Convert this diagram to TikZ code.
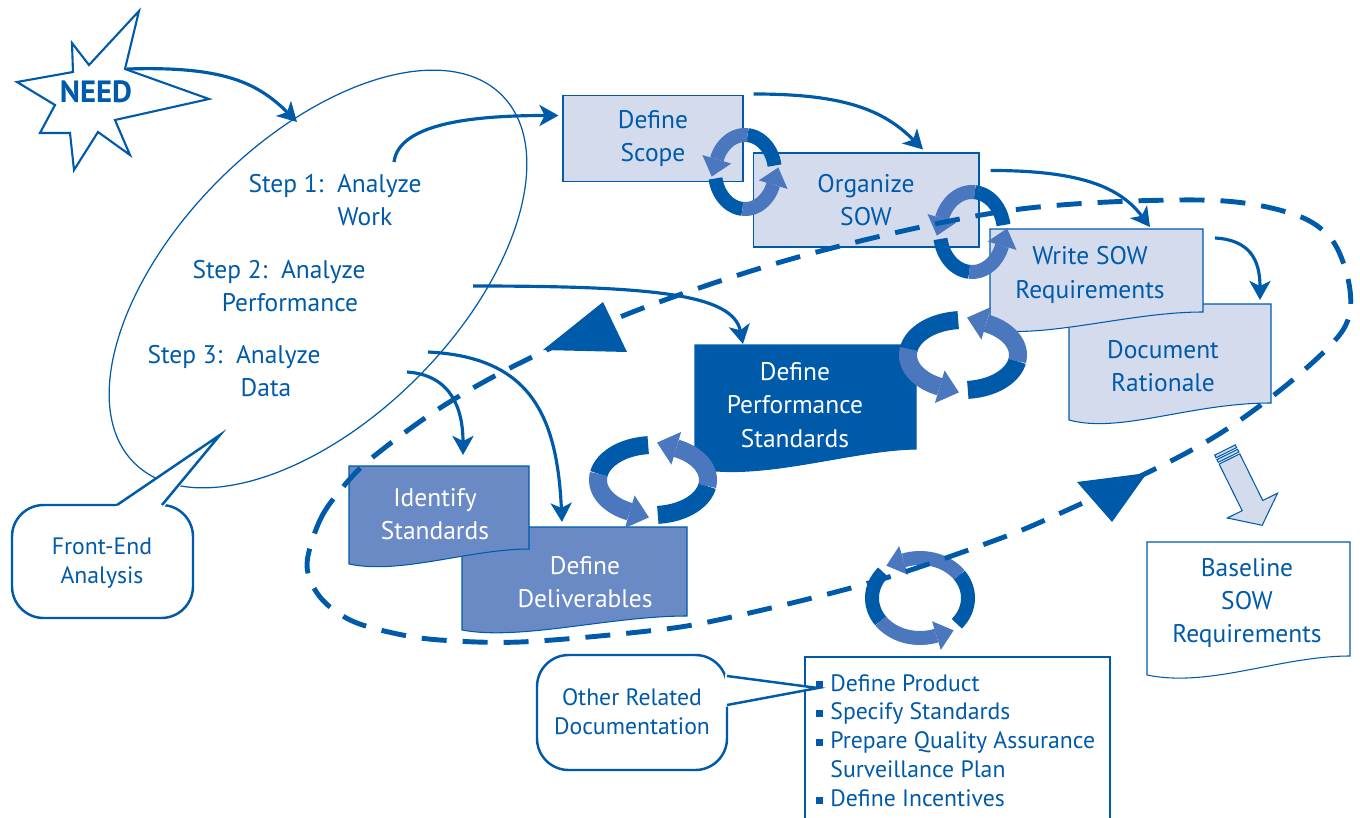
\documentclass[tikz,border=0pt]{standalone}
\usepackage{fontspec}
\setmainfont{PT Sans}
\usetikzlibrary{arrows.meta,calc}

\definecolor{sowblue}{RGB}{0,90,170}
\definecolor{sowpale}{RGB}{212,219,237}
\definecolor{sowmid}{RGB}{106,138,198}
\definecolor{sowring}{RGB}{74,119,190}

\newcommand{\sq}{\raisebox{1.5pt}{\rule{4pt}{4pt}}}

% pair of turning arrows: centre, radii, start angle, band, head half width, head length
\newcommand{\cyclering}[8]{%
  \foreach \s in {0,180}{
    \pgfmathsetmacro{\ta}{#5+\s}
    \pgfmathsetmacro{\tb}{#5+\s-75}
    \pgfmathsetmacro{\tc}{#5+\s-150}
    \pgfmathsetmacro{\rex}{#1+#3*cos(\tc)}
    \pgfmathsetmacro{\rey}{#2+#4*sin(\tc)}
    \pgfmathsetmacro{\rdx}{#3*sin(\tc)}
    \pgfmathsetmacro{\rdy}{-#4*cos(\tc)}
    \pgfmathsetmacro{\rdl}{sqrt(\rdx*\rdx+\rdy*\rdy)}
    \pgfmathsetmacro{\rux}{\rdx/\rdl}
    \pgfmathsetmacro{\ruy}{\rdy/\rdl}
    \draw[sowblue, line width=#6] plot[domain=\ta:\tb, samples=20] ({#1+#3*cos(\x)},{#2+#4*sin(\x)});
    \draw[sowring, line width=#6] plot[domain=\tb:\tc, samples=20] ({#1+#3*cos(\x)},{#2+#4*sin(\x)});
    \fill[sowring] ({\rex-#7*\ruy},{\rey+#7*\rux}) -- ({\rex+#8*\rux},{\rey+#8*\ruy}) -- ({\rex+#7*\ruy},{\rey-#7*\rux}) -- cycle;
  }}

\tikzset{
  flow/.style={draw=sowblue, line width=1.8pt, -{Stealth[length=0.38cm,width=0.42cm,inset=0.1cm]}},
  boxtext/.style={text=sowblue, align=center, inner sep=0pt, font=\fontsize{14.5}{19}\selectfont},
  smalltext/.style={text=sowblue, align=center, inner sep=0pt, font=\fontsize{13.5}{16.5}\selectfont},
  pale/.style={draw=sowblue, line width=0.6pt, fill=sowpale},
  bubble/.style={draw=sowblue, line width=1.4pt, fill=white},
}

\begin{document}
\begin{tikzpicture}[x=0.02cm, y=-0.02cm]
\useasboundingbox (0,0) rectangle (1360,818);

% front-end analysis
\draw[sowblue, line width=0.7pt, rotate around={45:(318,279)}] (318,279) ellipse [x radius=260, y radius=140];

% need
\draw[sowblue, line width=1.2pt, fill=white] (139,11) -- (125,69) -- (209,99) -- (115,120) -- (130,155) -- (98,132) -- (74,170) -- (70,133) -- (40,133) -- (55,105) -- (17,82) -- (73,72) -- (72,43) -- (89,65) -- cycle;
\node[text=sowblue, font=\fontsize{17.5}{20}\selectfont\bfseries] (need) at (96,92) {NEED};

% steps
\node[boxtext] (step1) at (335,200) {Step 1:\ \ Analyze\\\hspace*{1.2cm}Work};
\node[boxtext] (step2) at (279,286) {Step 2:\ \ Analyze\\\hspace*{0.44cm}Performance};
\node[boxtext] (step3) at (234,371) {Step 3:\ \ Analyze\\\hspace*{1.28cm}Data};

% boxes
\node[pale, boxtext, minimum width=3.6cm, minimum height=1.72cm] (scope) at (653,138.5) {Define\\Scope};
\node[pale, boxtext, minimum width=4.52cm, minimum height=1.88cm] (organize) at (866,200) {Organize\\SOW};

\draw[pale] (1069,304) -- (1271,304) -- (1271,403) .. controls (1190,403) and (1120,434) .. (1069,420) -- cycle;
\node[boxtext] (rationale) at (1163,366) {Document\\Rationale};
\draw[pale] (990,229) -- (1203,229) -- (1203,312) .. controls (1130,312) and (1050,338) .. (990,330) -- cycle;
\node[boxtext] (writesow) at (1090,275) {Write SOW\\Requirements};

\draw[draw=sowblue, line width=0.6pt, fill=sowblue] (695,345) -- (916,345) -- (916,449) .. controls (850,450) and (760,482) .. (695,468) -- cycle;
\node[boxtext, text=white] (perf) at (795,405) {Define\\Performance\\Standards};

\draw[draw=sowblue, line width=0.6pt, fill=sowmid] (462,527) -- (687,527) -- (687,616) .. controls (610,616) and (520,641) .. (462,630) -- cycle;
\node[boxtext, text=white] (deliver) at (585,582) {Define\\Deliverables};
\draw[draw=sowblue, line width=0.6pt, fill=sowmid] (349,466) -- (529,466) -- (529,549) .. controls (470,549) and (400,575) .. (349,564) -- cycle;
\node[boxtext, text=white] (identify) at (435,514) {Identify\\Standards};

\draw[draw=sowblue, line width=0.6pt, fill=white] (1147,542) -- (1350,542) -- (1350,656) .. controls (1280,656) and (1210,688) .. (1147,675) -- cycle;
\node[boxtext] (baseline) at (1247,603) {Baseline\\SOW\\Requirements};

% tasks
\draw[draw=sowblue, line width=0.6pt, fill=white] (805,657) rectangle (1110,840);
\node[smalltext, anchor=base west] (tasks) at (816,691) {\begin{tabular}[t]{@{}l@{\hspace{4pt}}l@{}}
  \sq & Define Product\\ \sq & Specify Standards\\ \sq & Prepare Quality Assurance\\ & Surveillance Plan\\ \sq & Define Incentives
\end{tabular}};

% callouts
\draw[bubble, rounded corners=18] (12,505) rectangle (193,618);
\fill[white] (115,507) -- (220,435) -- (164,507) -- cycle;
\draw[sowblue, line width=1.4pt] (117,505) -- (220,435) -- (162,505);
\node[smalltext] (frontend) at (102,563) {Front-End\\Analysis};
\draw[bubble, rounded corners=18] (537,655) rectangle (727,770);
\fill[white] (725,674) -- (818,688) -- (725,707) -- cycle;
\draw[sowblue, line width=1.4pt] (727,676) -- (818,688) -- (727,705);
\node[smalltext] (otherdoc) at (632,712) {Other Related\\Documentation};

% flow arrows
\coordinate (needout) at (127,69);
\coordinate (feain) at (297,122);
\coordinate (step1out) at (394,162);
\coordinate (wsin) at (1150,227);
\coordinate (wsout) at (1215,238);
\coordinate (ratin) at (1260,300);
\coordinate (step2out) at (473,286);
\coordinate (perfin) at (743,344);
\coordinate (step3out) at (428,352);
\coordinate (delin) at (562,522);
\coordinate (step3outb) at (407,372);
\coordinate (idin) at (463,455);

\draw[flow] (needout) .. controls +(95,-3) and +(-40,-40) .. (feain);
\draw[flow] (step1out) .. controls +(5,-40) and +(-80,0) .. ($(scope.west)+(-4,-23)$);
\draw[flow] ($(scope.north east)+(10,-1)$) .. controls +(90,0) and +(-40,-40) .. ($(organize.north)+(57,-3)$);
\draw[flow] ($(organize.north east)+(11,18)$) .. controls +(90,0) and +(-30,-40) .. (wsin);
\draw[flow] (wsout) .. controls +(35,2) and +(0,-40) .. (ratin);
\draw[flow] (step2out) .. controls +(180,0) and +(-10,-50) .. (perfin);
\draw[flow] (step3out) .. controls +(100,5) and +(-5,-110) .. (delin);
\draw[flow] (step3outb) .. controls +(45,3) and +(0,-45) .. (idin);

% turning arrows
\cyclering{745}{172}{30}{37}{-10}{0.28cm}{15}{18}
\cyclering{972}{232}{32}{40}{-10}{0.28cm}{15}{18}
\cyclering{963}{355}{55}{35}{-95}{0.36cm}{17}{20}
\cyclering{653}{480}{55}{35}{-95}{0.36cm}{17}{20}
\cyclering{920}{598}{48}{40}{40}{0.28cm}{15}{18}

% dashed loop
\draw[sowblue, line width=2.8pt, dash pattern=on 0.5cm off 0.32cm] plot[smooth cycle, tension=0.55] coordinates {
  (307,565) (320,520) (343,487) (373,457) (440,408) (520,363) (643,308) (813,253) (1013,210)
  (1200,200) (1290,213) (1332,240) (1350,290) (1343,330) (1295,378) (1230,427) (1167,463)
  (1063,512) (996,540) (869,583) (718,620) (639,632) (520,642) (440,640) (393,633) (350,620) (320,597)};
\fill[sowblue] (603,302) -- (543,350) -- (627,352) -- cycle;
\fill[sowblue] (1077,482) -- (1147,473) -- (1112,522) -- cycle;

% baseline arrow
\begin{scope}[shift={(1225,450)}, rotate=-63.7]
  \draw[draw=sowblue, line width=0.6pt, fill=sowpale] (10,-11.5) -- (62,-11.5) -- (62,-28) -- (84,0) -- (62,28) -- (62,11.5) -- (10,11.5) -- cycle;
  \draw[draw=sowblue, line width=0.6pt, fill=sowpale] (0,-11.5) rectangle (3,11.5);
  \draw[draw=sowblue, line width=0.6pt, fill=sowpale] (5,-11.5) rectangle (8,11.5);
\end{scope}
\end{tikzpicture}
\end{document}
